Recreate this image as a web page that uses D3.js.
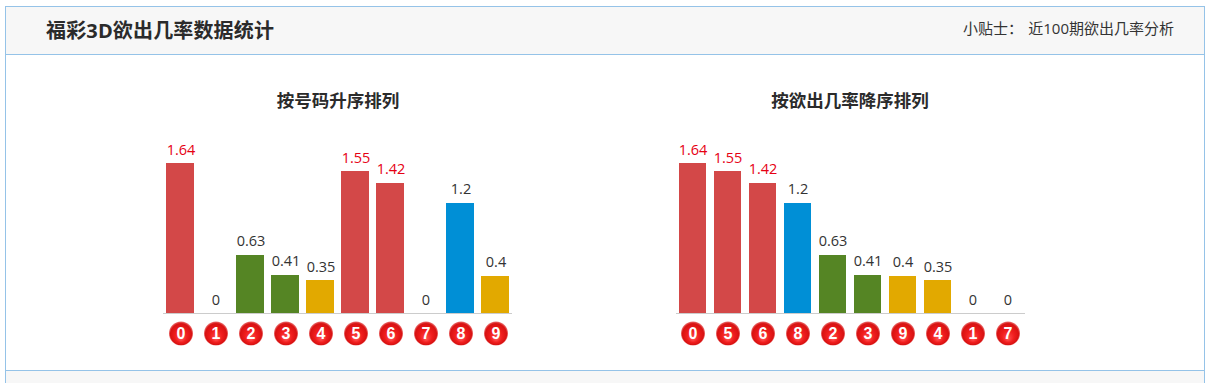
<!DOCTYPE html>
<html><head><meta charset="utf-8">
<script src="https://cdn.jsdelivr.net/npm/d3@7"></script>
<style>html,body{margin:0;padding:0;background:#fff;overflow:hidden}svg{display:block}
text{font-family:"Open Sans","Noto Sans CJK SC",sans-serif}</style></head><body>
<svg id="c" width="1220" height="383"></svg>
<script>
const titleText="福彩3D欲出几率数据统计";
const tipLabel="小贴士：";
const tipText="近100期欲出几率分析";
const chartTitles=["按号码升序排列","按欲出几率降序排列"];
const digitsAsc=["0","1","2","3","4","5","6","7","8","9"];
const valuesAsc=[1.64,0,0.63,0.41,0.35,1.55,1.42,0,1.2,0.4];
const digitsDesc=["0","5","6","8","2","3","9","4","1","7"];
const valuesDesc=[1.64,1.55,1.42,1.2,0.63,0.41,0.4,0.35,0,0];
const colorRange=["#e2a900","#558524","#008fd6","#d34848"];
const color=d3.scaleThreshold().domain([0.4001,1,1.3]).range(colorRange);
const svg=d3.select("#c");
const defs=svg.append("defs");
const g=defs.append("radialGradient").attr("id","ball").attr("cx","50%").attr("cy","50%").attr("r","50%").attr("fx","50%").attr("fy","75%");
g.append("stop").attr("offset","0%").attr("stop-color","#ff5252");
g.append("stop").attr("offset","50%").attr("stop-color","#f01e1e");
g.append("stop").attr("offset","88%").attr("stop-color","#d81212");
g.append("stop").attr("offset","100%").attr("stop-color","#ea7070");
svg.append("rect").attr("x",5.5).attr("y",6.5).attr("width",1199).attr("height",48).attr("fill","#f7f7f7");
svg.append("rect").attr("x",5.5).attr("y",370.5).attr("width",1199).attr("height",13).attr("fill","#f7f7f7");
svg.append("rect").attr("x",5.5).attr("y",6.5).attr("width",1199).attr("height",364).attr("fill","none").attr("stroke","#95c3e8");
svg.append("line").attr("x1",5.5).attr("x2",1204.5).attr("y1",54.5).attr("y2",54.5).attr("stroke","#95c3e8");
svg.append("line").attr("x1",5.5).attr("x2",5.5).attr("y1",370).attr("y2",383).attr("stroke","#95c3e8");
svg.append("line").attr("x1",1204.5).attr("x2",1204.5).attr("y1",370).attr("y2",383).attr("stroke","#95c3e8");
svg.append("text").attr("x",46).attr("y",38).attr("font-size",20).attr("font-weight",700).attr("letter-spacing",0.15).attr("fill","#2b2b2b").text(titleText);
svg.append("text").attr("x",963).attr("y",34).attr("font-size",15).attr("fill","#333").text(tipLabel);
svg.append("text").attr("x",1174).attr("y",34).attr("text-anchor","end").attr("font-size",15).attr("fill","#333").text(tipText);
const y=d3.scaleLinear().domain([0,1.64]).range([312,163]);
function chart(x0,cx,title,digits,values,bw,ballShift){
  const step=35;
  const x=d3.scaleBand().domain(digits.map((d,i)=>i)).range([x0,x0+step*10-(step-bw)+7])
    .paddingInner((step-bw)/step).paddingOuter(3.5/step);
  const mid=i=>x(i)+x.bandwidth()/2+ballShift;
  const rows=values.map((v,i)=>({v,i}));
  const p=svg.append("g");
  p.append("text").attr("x",cx).attr("y",107).attr("text-anchor","middle").attr("font-size",17.5).attr("font-weight",700).attr("fill","#2b2b2b").text(title);
  p.selectAll(".b").data(rows.filter(d=>d.v>0)).join("rect").attr("class","b")
    .attr("x",d=>x(d.i)).attr("width",x.bandwidth()).attr("y",d=>Math.round(y(d.v))).attr("height",d=>313-Math.round(y(d.v))).attr("fill",d=>color(d.v));
  p.append("line").attr("x1",x0+0.5).attr("x2",x0+349.5).attr("y1",313.5).attr("y2",313.5).attr("stroke","#ccc");
  p.selectAll(".v").data(rows).join("text").attr("class","v")
    .attr("x",d=>mid(d.i)).attr("y",d=>(d.v>0?y(d.v)-8.5:y(0)-7.5)).attr("text-anchor","middle").attr("font-size",14.5)
    .attr("fill",d=>d.v>=1.3?"#e60012":"#333").text(d=>d.v);
  p.selectAll(".ball").data(digits).join("circle").attr("class","ball")
    .attr("cx",(d,i)=>mid(i)).attr("cy",333.5).attr("r",12).attr("fill","url(#ball)");
  p.selectAll(".n").data(digits).join("text").attr("class","n")
    .attr("x",(d,i)=>mid(i)).attr("y",339).attr("text-anchor","middle").style("font-family","'Liberation Sans',sans-serif").attr("font-size",16).attr("font-weight",700).attr("fill","#fff").text(d=>d);
}
chart(162.5,338,chartTitles[0],digitsAsc,valuesAsc,28,1);
chart(675.5,850,chartTitles[1],digitsDesc,valuesDesc,27,0.5);
</script></body></html>
